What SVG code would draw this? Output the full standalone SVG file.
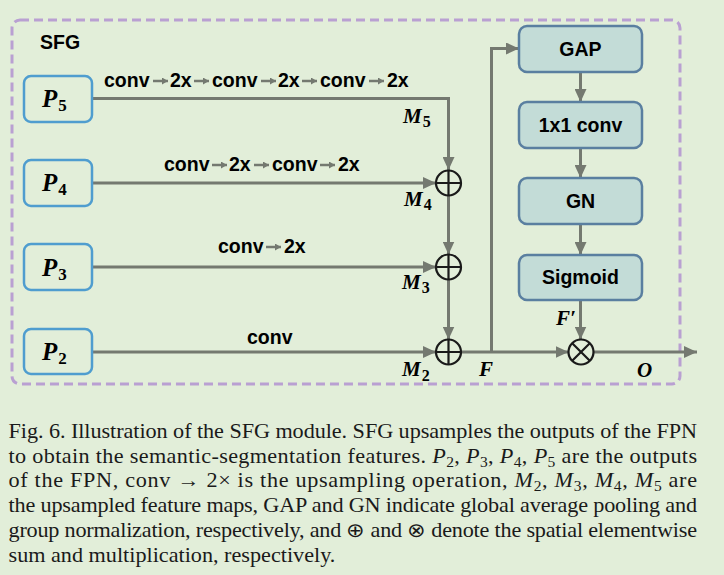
<svg xmlns="http://www.w3.org/2000/svg" width="724" height="575" viewBox="0 0 724 575">
<defs>
<style>
.bg{fill:#e2eed9}
.frame{fill:none;stroke:#b9a0d2;stroke-width:3;stroke-dasharray:9 5}
.pbox{fill:#e2eed9;stroke:#4f9dcf;stroke-width:2.5}
.gbox{fill:#c3dcd7;stroke:#5a7fa0;stroke-width:2.5}
.ln{fill:none;stroke:#747970;stroke-width:3}
.sl{fill:none;stroke:#747970;stroke-width:2.5}
.op{fill:none;stroke:#1a1a1a;stroke-width:2.2}
.lab{font-family:"Liberation Sans",Arial,sans-serif;font-weight:bold;font-size:19.5px;fill:#000}
.math{font-family:"Liberation Serif","Times New Roman",serif;font-weight:bold;font-style:italic;fill:#000}
.cap{font-family:"Liberation Serif","Times New Roman",serif;font-size:20px;fill:#1a1a1a}
</style>
<marker id="ah" markerUnits="userSpaceOnUse" markerWidth="14" markerHeight="12" refX="13" refY="6" orient="auto">
<path d="M0,0 L13,6 L0,12 Z" fill="#747970"/>
</marker>
<marker id="sah" markerUnits="userSpaceOnUse" markerWidth="7" markerHeight="7" refX="6" refY="3.5" orient="auto">
<path d="M0,0 L6,3.5 L0,7 Z" fill="#747970"/>
</marker>
</defs>
<rect class="bg" x="0" y="0" width="724" height="575"/>
<rect class="frame" x="12" y="20" width="668" height="364" rx="8"/>
<text class="lab" x="40" y="49" font-size="21">SFG</text>

<g id="connectors">
<path class="ln" d="M92,98.5 H448.5 V170" marker-end="url(#ah)"/>
<path class="ln" d="M92,183 H436" marker-end="url(#ah)"/>
<path class="ln" d="M448.5,195.5 V254.5" marker-end="url(#ah)"/>
<path class="ln" d="M92,267 H436" marker-end="url(#ah)"/>
<path class="ln" d="M448.5,279.5 V339.5" marker-end="url(#ah)"/>
<path class="ln" d="M92,352 H436" marker-end="url(#ah)"/>
<path class="ln" d="M461,352 H568.5" marker-end="url(#ah)"/>
<path class="ln" d="M491.5,352 V48.5 H519" marker-end="url(#ah)"/>
<path class="ln" d="M580.5,72 V102" marker-end="url(#ah)"/>
<path class="ln" d="M580.5,148 V178" marker-end="url(#ah)"/>
<path class="ln" d="M580.5,224 V255" marker-end="url(#ah)"/>
<path class="ln" d="M580.5,300 V339.5" marker-end="url(#ah)"/>
<path class="ln" d="M593.5,352 H697" marker-end="url(#ah)"/>
<path class="sl" d="M153,81 H168" marker-end="url(#sah)"/>
<path class="sl" d="M194,81 H209" marker-end="url(#sah)"/>
<path class="sl" d="M261,81 H276" marker-end="url(#sah)"/>
<path class="sl" d="M302,81 H317" marker-end="url(#sah)"/>
<path class="sl" d="M369,81 H384" marker-end="url(#sah)"/>
<path class="sl" d="M212,165 H227" marker-end="url(#sah)"/>
<path class="sl" d="M254,165 H269" marker-end="url(#sah)"/>
<path class="sl" d="M320,165 H335" marker-end="url(#sah)"/>
<path class="sl" d="M266,247 H281" marker-end="url(#sah)"/>
</g>

<g id="edge-labels">
<text class="lab" x="104" y="87">conv</text>
<text class="lab" x="170" y="87">2x</text>
<text class="lab" x="212" y="87">conv</text>
<text class="lab" x="278" y="87">2x</text>
<text class="lab" x="320" y="87">conv</text>
<text class="lab" x="387" y="87">2x</text>
<text class="lab" x="164" y="171">conv</text>
<text class="lab" x="229" y="171">2x</text>
<text class="lab" x="272" y="171">conv</text>
<text class="lab" x="338" y="171">2x</text>
<text class="lab" x="218" y="253">conv</text>
<text class="lab" x="284" y="253">2x</text>
<text class="lab" x="247" y="344">conv</text>
</g>

<g id="P5"><rect class="pbox" x="24" y="76" width="68" height="46" rx="7"/>
<text class="math" x="42" y="107" font-size="25">P<tspan font-size="17" font-style="normal" dx="1" dy="4">5</tspan></text></g>
<g id="P4"><rect class="pbox" x="24" y="160" width="68" height="46" rx="7"/>
<text class="math" x="42" y="191" font-size="25">P<tspan font-size="17" font-style="normal" dx="1" dy="4">4</tspan></text></g>
<g id="P3"><rect class="pbox" x="24" y="244" width="68" height="46" rx="7"/>
<text class="math" x="42" y="276" font-size="25">P<tspan font-size="17" font-style="normal" dx="1" dy="4">3</tspan></text></g>
<g id="P2"><rect class="pbox" x="24" y="329" width="68" height="45" rx="7"/>
<text class="math" x="42" y="360" font-size="25">P<tspan font-size="17" font-style="normal" dx="1" dy="4">2</tspan></text></g>

<g id="M5lab"><text class="math" x="403" y="123" font-size="21">M<tspan font-size="16" font-style="normal" dx="1" dy="4">5</tspan></text></g>
<g id="sum4"><circle class="op" cx="448.5" cy="183" r="12.5"/><path class="op" d="M436,183 H461 M448.5,170.5 V195.5"/>
<text class="math" x="404" y="206" font-size="21">M<tspan font-size="16" font-style="normal" dx="1" dy="4">4</tspan></text></g>
<g id="sum3"><circle class="op" cx="448.5" cy="267" r="12.5"/><path class="op" d="M436,267 H461 M448.5,254.5 V279.5"/>
<text class="math" x="402" y="289" font-size="21">M<tspan font-size="16" font-style="normal" dx="1" dy="4">3</tspan></text></g>
<g id="sum2"><circle class="op" cx="448.5" cy="352" r="12.5"/><path class="op" d="M436,352 H461 M448.5,339.5 V364.5"/>
<text class="math" x="402" y="376" font-size="21">M<tspan font-size="16" font-style="normal" dx="1" dy="5">2</tspan></text></g>

<g id="GAP"><rect class="gbox" x="519" y="26" width="123" height="46" rx="8"/>
<text class="lab" x="580.5" y="56" text-anchor="middle">GAP</text></g>
<g id="conv1x1"><rect class="gbox" x="519" y="102" width="123" height="46" rx="8"/>
<text class="lab" x="580.5" y="132" text-anchor="middle">1x1 conv</text></g>
<g id="GN"><rect class="gbox" x="519" y="178" width="123" height="46" rx="8"/>
<text class="lab" x="580.5" y="208" text-anchor="middle">GN</text></g>
<g id="Sigmoid"><rect class="gbox" x="519" y="255" width="123" height="45" rx="8"/>
<text class="lab" x="580.5" y="284" text-anchor="middle">Sigmoid</text></g>

<g id="mul"><circle class="op" cx="581" cy="352" r="12.5"/><path class="op" d="M572.2,343.2 L589.8,360.8 M589.8,343.2 L572.2,360.8"/></g>
<text class="math" x="556" y="325" font-size="21">F′</text>
<text class="math" x="479" y="376" font-size="21">F</text>
<text class="math" x="637" y="377" font-size="21">O</text>

<g id="caption" class="cap" transform="translate(8.5,0) scale(1.11,1)">
<text x="0" y="438" textLength="620.3" lengthAdjust="spacing">Fig. 6.  Illustration of the SFG module. SFG upsamples the outputs of the FPN</text>
<text x="0" y="463" textLength="620.3" lengthAdjust="spacing">to obtain the semantic-segmentation features. <tspan font-style="italic">P</tspan><tspan font-size="14" dy="4">2</tspan><tspan dy="-4">, </tspan><tspan font-style="italic">P</tspan><tspan font-size="14" dy="4">3</tspan><tspan dy="-4">, </tspan><tspan font-style="italic">P</tspan><tspan font-size="14" dy="4">4</tspan><tspan dy="-4">, </tspan><tspan font-style="italic">P</tspan><tspan font-size="14" dy="4">5</tspan><tspan dy="-4"> are the outputs</tspan></text>
<text x="0" y="487" textLength="620.3" lengthAdjust="spacing">of the FPN, conv → 2× is the upsampling operation, <tspan font-style="italic">M</tspan><tspan font-size="14" dy="4">2</tspan><tspan dy="-4">, </tspan><tspan font-style="italic">M</tspan><tspan font-size="14" dy="4">3</tspan><tspan dy="-4">, </tspan><tspan font-style="italic">M</tspan><tspan font-size="14" dy="4">4</tspan><tspan dy="-4">, </tspan><tspan font-style="italic">M</tspan><tspan font-size="14" dy="4">5</tspan><tspan dy="-4"> are</tspan></text>
<text x="0" y="512" textLength="620.3" lengthAdjust="spacing">the upsampled feature maps, GAP and GN indicate global average pooling and</text>
<text x="0" y="537" textLength="620.3" lengthAdjust="spacing">group normalization, respectively, and ⊕ and ⊗ denote the spatial elementwise</text>
<text x="0" y="562">sum and multiplication, respectively.</text>
</g>
</svg>
